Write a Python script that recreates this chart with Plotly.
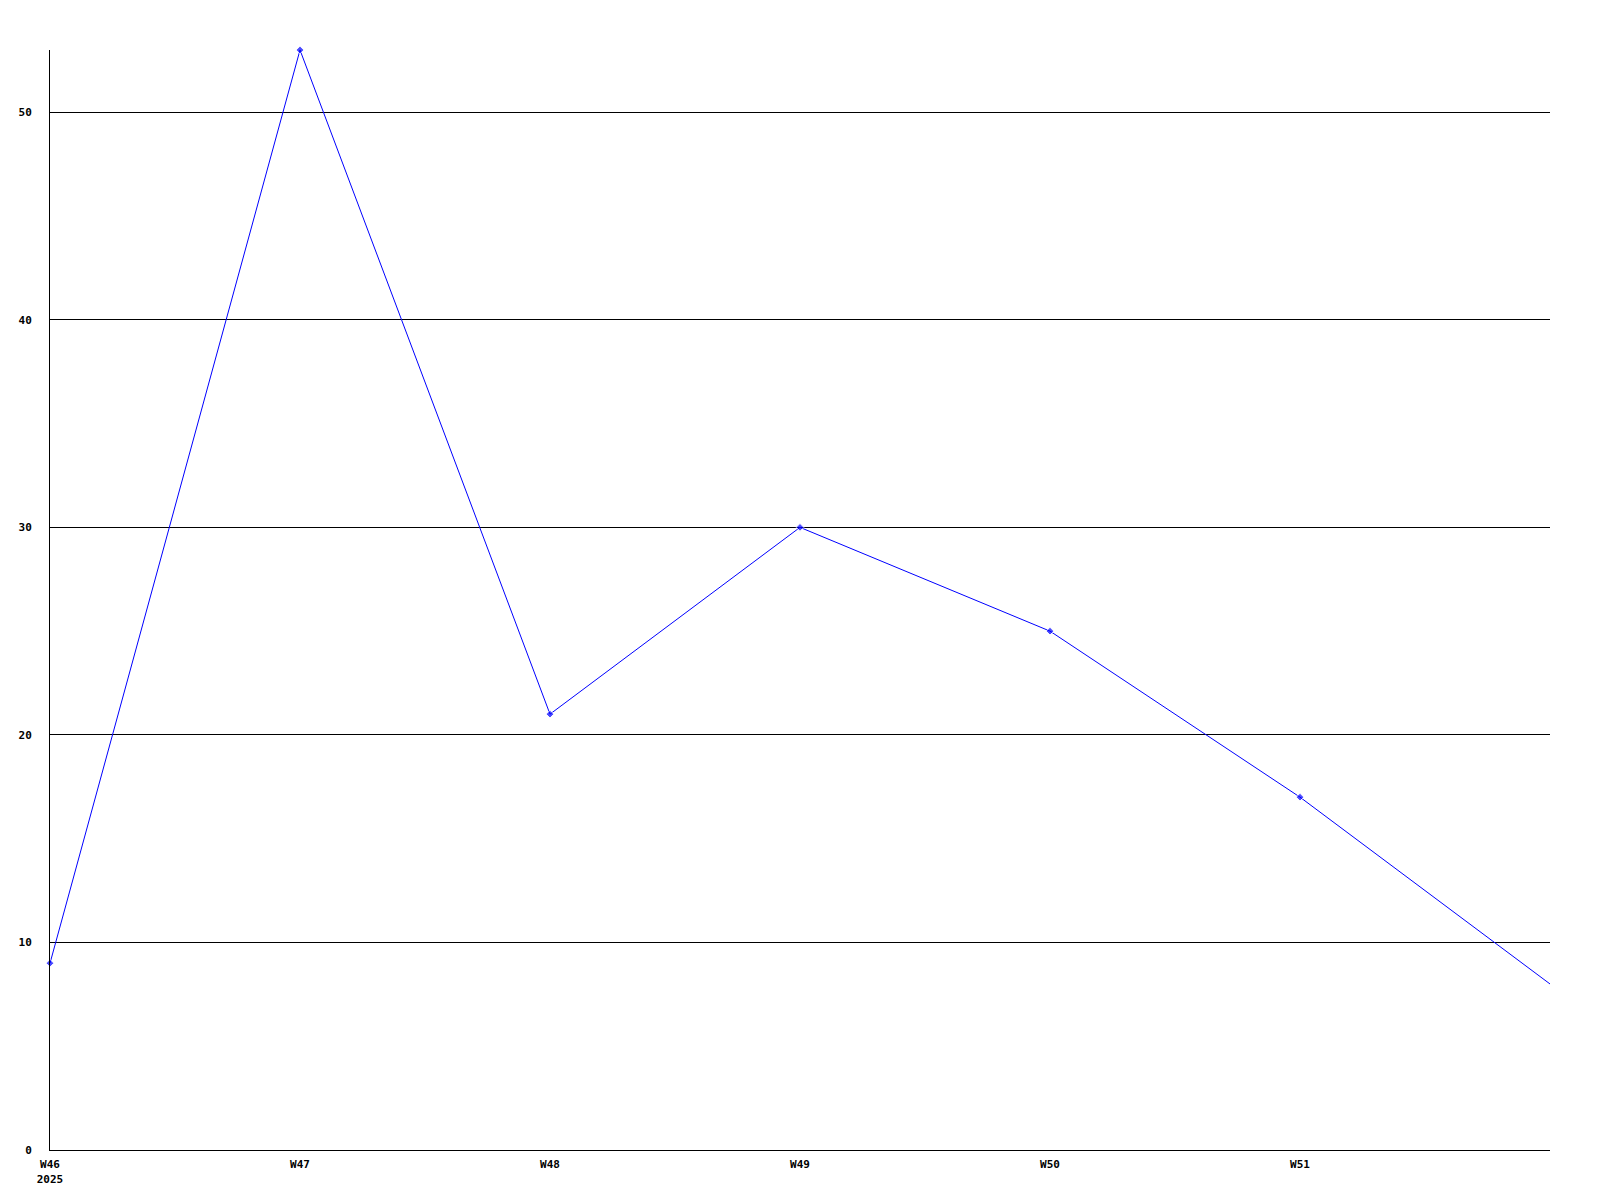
import plotly.graph_objects as go

weeks = ["W46", "W47", "W48", "W49", "W50", "W51", "W52"]
values = [9, 53, 21, 30, 25, 17, 8]
tick_labels = ["W46<br>2025", "W47", "W48", "W49", "W50", "W51"]
y_ticks = [0, 10, 20, 30, 40, 50]

x_pos = list(range(len(weeks)))
marker_sizes = [6] * (len(weeks) - 1) + [0]

fig = go.Figure()
fig.add_trace(go.Scatter(
    x=x_pos, y=values, mode="lines+markers",
    line=dict(color="#0000ff", width=1),
    marker=dict(color="#0000ff", size=marker_sizes, symbol="diamond"),
    hovertext=weeks, cliponaxis=False,
))

font = dict(family="DejaVu Sans Mono", size=11, color="black", weight="bold")

fig.update_layout(
    width=1600, height=1200,
    margin=dict(l=42, r=58, t=42, b=58),
    paper_bgcolor="white", plot_bgcolor="white",
    showlegend=False,
    font=font,
    xaxis=dict(
        range=[0, 6], tickmode="array", tickvals=x_pos[:6], ticktext=tick_labels,
        showgrid=False, zeroline=False, showline=True, linecolor="black", linewidth=1,
        ticks="outside", ticklen=4, tickcolor="white", tickfont=font,
    ),
    yaxis=dict(
        range=[0, 53], tickmode="array", tickvals=y_ticks,
        showgrid=True, gridcolor="black", gridwidth=1,
        zeroline=False, showline=True, linecolor="black", linewidth=1,
        ticks="outside", ticklen=15, tickcolor="white", tickfont=font,
    ),
)

fig.write_html("out.html")
